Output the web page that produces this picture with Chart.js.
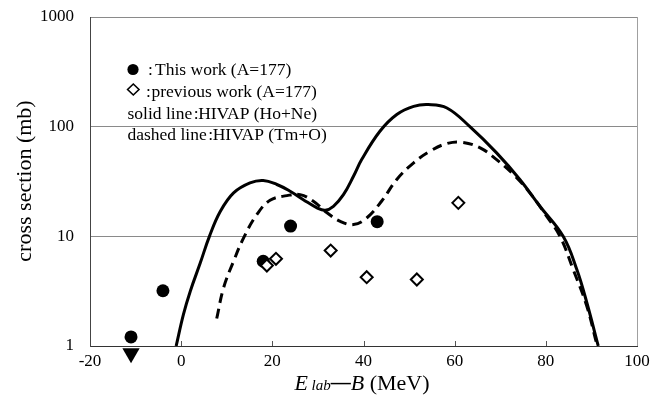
<!DOCTYPE html>
<html>
<head>
<meta charset="utf-8">
<script src="https://cdn.jsdelivr.net/npm/chart.js@4/dist/chart.umd.min.js"></script>
<style>
html,body{margin:0;padding:0;background:#fff;}
#wrap{width:657px;height:412px;position:relative;}
</style>
</head>
<body>
<div id="wrap"><canvas id="c" width="657" height="412"></canvas></div>
<script>
// ---- data ----
const xTicks = [-20, 0, 20, 40, 60, 80, 100];
const yTicks = [1, 10, 100, 1000];

const thisWorkX = [-11, -4, 18, 24, 43];
const thisWorkY = [1.21, 3.19, 5.93, 12.4, 13.6];

const upperLimitX = [-11];
const upperLimitY = [0.86];

const prevWorkX = [18.8, 20.8, 32.8, 40.7, 51.7, 60.8];
const prevWorkY = [5.42, 6.24, 7.42, 4.24, 4.04, 20.2];

const solidX = [-1.1, 0.5, 2.0, 4.2, 6.2, 8.6, 11.5, 15.1, 18.0, 21.0, 23.9, 26.8, 29.8, 31.6, 33.4, 35.6, 37.8, 39.6, 43.6, 47.3, 51.0, 54.2, 58.3, 63.4, 69.2, 74.3, 78.7, 83.8, 86.8, 89.0, 91.5];
const solidY = [1.0, 1.94, 3.16, 5.73, 10.0, 16.9, 24.9, 30.7, 32.3, 29.7, 25.8, 21.6, 18.2, 17.3, 18.8, 24.0, 35.3, 50.1, 90.8, 129, 153, 159, 148, 99.5, 57.7, 33, 18.8, 10, 4.98, 2.48, 1.0];

const dashX = [7.8, 9.3, 11.5, 13.7, 16.6, 19.5, 23.2, 26.1, 29.0, 32.0, 34.9, 37.8, 40.7, 44.0, 47.3, 51.0, 54.6, 58.3, 61.6, 65.6, 69.2, 72.9, 76.5, 80.2, 83.1, 86.0, 89.0, 91.1];
const dashY = [1.78, 3.39, 5.93, 9.69, 15.8, 21.3, 23.5, 24.0, 20.9, 16.4, 13.7, 12.8, 14.7, 21.0, 33.0, 46.8, 59.7, 70.2, 72.1, 64.1, 50.1, 36.6, 24.9, 15.2, 10, 4.98, 2.3, 1.07];

const legendKeys = ['', '', 'solid line', 'dashed line'];
const legendTexts = ['This work (A=177)', 'previous work (A=177)', 'HIVAP (Ho+Ne)', 'HIVAP (Tm+O)'];
const yTitle = 'cross section (mb)';
const xTitleParts = [['E', 'italic'], [' lab', 'italicSmall'], ['\u2014', 'dash'], ['B', 'italic'], [' (MeV)', 'normal']];

const FONT = '"Liberation Serif", "Times New Roman", serif';
const zip = (xs, ys) => xs.map((x, i) => ({x: x, y: ys[i]}));

const decorPlugin = {
  id: 'decor',
  afterDatasetsDraw(chart) {
    const ctx = chart.ctx;
    const a = chart.chartArea;
    const xs = chart.scales.x;
    ctx.save();
    // right border
    ctx.strokeStyle = '#a0a0a0';
    ctx.lineWidth = 1;
    ctx.beginPath();
    ctx.moveTo(Math.round(a.right) + 0.5, a.top);
    ctx.lineTo(Math.round(a.right) + 0.5, a.bottom);
    ctx.stroke();
    // inner x tick marks
    ctx.strokeStyle = '#555';
    xTicks.forEach(v => {
      if (v === xTicks[0] || v === xTicks[xTicks.length - 1]) return;
      const px = Math.round(xs.getPixelForValue(v)) + 0.5;
      ctx.beginPath();
      ctx.moveTo(px, a.bottom);
      ctx.lineTo(px, a.bottom - 5);
      ctx.stroke();
    });
    ctx.restore();
  },
  afterDraw(chart) {
    const ctx = chart.ctx;
    ctx.save();
    ctx.fillStyle = '#000';
    ctx.textBaseline = 'alphabetic';
    // legend
    ctx.font = '17.5px ' + FONT;
    const baselines = [75, 97, 118.5, 140];
    // symbol 0: filled circle
    ctx.beginPath();
    ctx.arc(133, 69.5, 5.6, 0, Math.PI * 2);
    ctx.fill();
    ctx.fillText(':', 148, baselines[0]);
    ctx.fillText(legendTexts[0], 155, baselines[0]);
    // symbol 1: open diamond
    ctx.strokeStyle = '#000';
    ctx.lineWidth = 1.6;
    ctx.beginPath();
    ctx.moveTo(133.3, 84); ctx.lineTo(139, 89.5); ctx.lineTo(133.3, 95); ctx.lineTo(127.6, 89.5); ctx.closePath();
    ctx.stroke();
    ctx.fillText(':', 146, baselines[1]);
    ctx.fillText(legendTexts[1], 151.5, baselines[1]);
    for (let i = 2; i < 4; i++) {
      ctx.fillText(legendKeys[i], 127.5, baselines[i]);
      const w = ctx.measureText(legendKeys[i]).width;
      ctx.fillText(':', 127.5 + w + 1.5, baselines[i]);
      ctx.fillText(legendTexts[i], 127.5 + w + 6, baselines[i]);
    }
    // y title
    ctx.save();
    ctx.translate(25, 181);
    ctx.rotate(-Math.PI / 2);
    ctx.font = '22px ' + FONT;
    ctx.textAlign = 'center';
    ctx.textBaseline = 'middle';
    ctx.fillText(yTitle, 0, 0);
    ctx.restore();
    // x title
    const fonts = {
      italic: 'italic 22px ' + FONT,
      italicSmall: 'italic 15px ' + FONT,
      dash: 'bold 20px ' + FONT,
      normal: '22px ' + FONT
    };
    let total = 0;
    xTitleParts.forEach(p => { ctx.font = fonts[p[1]]; total += ctx.measureText(p[0]).width; });
    let x = 362 - total / 2;
    xTitleParts.forEach(p => {
      ctx.font = fonts[p[1]];
      ctx.fillText(p[0], x, p[1] === 'dash' ? 389 : 390);
      x += ctx.measureText(p[0]).width;
    });
    ctx.restore();
  }
};

new Chart(document.getElementById('c'), {
  type: 'scatter',
  data: {
    datasets: [
      {
        label: 'previous work (A=177)',
        data: zip(prevWorkX, prevWorkY),
        pointStyle: 'rectRot',
        pointRadius: 6,
        pointHoverRadius: 6,
        pointBackgroundColor: '#fff',
        pointBorderColor: '#000',
        pointBorderWidth: 2,
        showLine: false
      },
      {
        label: 'This work (A=177)',
        data: zip(thisWorkX, thisWorkY),
        pointStyle: 'circle',
        pointRadius: 6.5,
        pointHoverRadius: 6.5,
        pointBackgroundColor: '#000',
        pointBorderColor: '#000',
        pointBorderWidth: 0,
        showLine: false
      },
      {
        label: 'upper limit',
        data: zip(upperLimitX, upperLimitY),
        pointStyle: 'triangle',
        rotation: 180,
        pointRadius: 10,
        pointHoverRadius: 12,
        pointBackgroundColor: '#000',
        pointBorderColor: '#000',
        pointBorderWidth: 0,
        showLine: false,
        clip: false
      },
      {
        label: 'HIVAP (Ho+Ne)',
        data: zip(solidX, solidY),
        showLine: true,
        borderColor: '#000',
        borderWidth: 3,
        pointRadius: 0,
        pointHoverRadius: 0,
        tension: 0.4
      },
      {
        label: 'HIVAP (Tm+O)',
        data: zip(dashX, dashY),
        showLine: true,
        borderColor: '#000',
        borderWidth: 3,
        borderDash: [10, 6],
        pointRadius: 0,
        pointHoverRadius: 0,
        tension: 0.4
      }
    ]
  },
  options: {
    responsive: false,
    animation: false,
    events: [],
    layout: { padding: { top: 17, right: 20, left: 0, bottom: 0 } },
    plugins: { legend: { display: false }, tooltip: { enabled: false } },
    scales: {
      x: {
        type: 'linear',
        min: xTicks[0],
        max: xTicks[xTicks.length - 1],
        afterBuildTicks: s => { s.ticks = xTicks.map(v => ({value: v})); },
        ticks: { font: { family: FONT, size: 17 }, color: '#000', padding: 5, maxRotation: 0, autoSkip: false },
        grid: { display: false, drawTicks: false },
        border: { color: '#333', width: 1 },
        afterFit: s => { s.height = 66; s.paddingLeft = 0; s.paddingRight = 0; }
      },
      y: {
        type: 'logarithmic',
        min: yTicks[0],
        max: yTicks[yTicks.length - 1],
        afterBuildTicks: s => { s.ticks = yTicks.map(v => ({value: v})); },
        ticks: { font: { family: FONT, size: 17 }, color: '#000', padding: 16, autoSkip: false, callback: v => String(v) },
        grid: { color: '#8a8a8a', lineWidth: 1, drawTicks: false },
        border: { color: '#444', width: 1 },
        afterFit: s => { s.width = 90; s.paddingTop = 0; s.paddingBottom = 0; }
      }
    }
  },
  plugins: [decorPlugin]
});
</script>
</body>
</html>
